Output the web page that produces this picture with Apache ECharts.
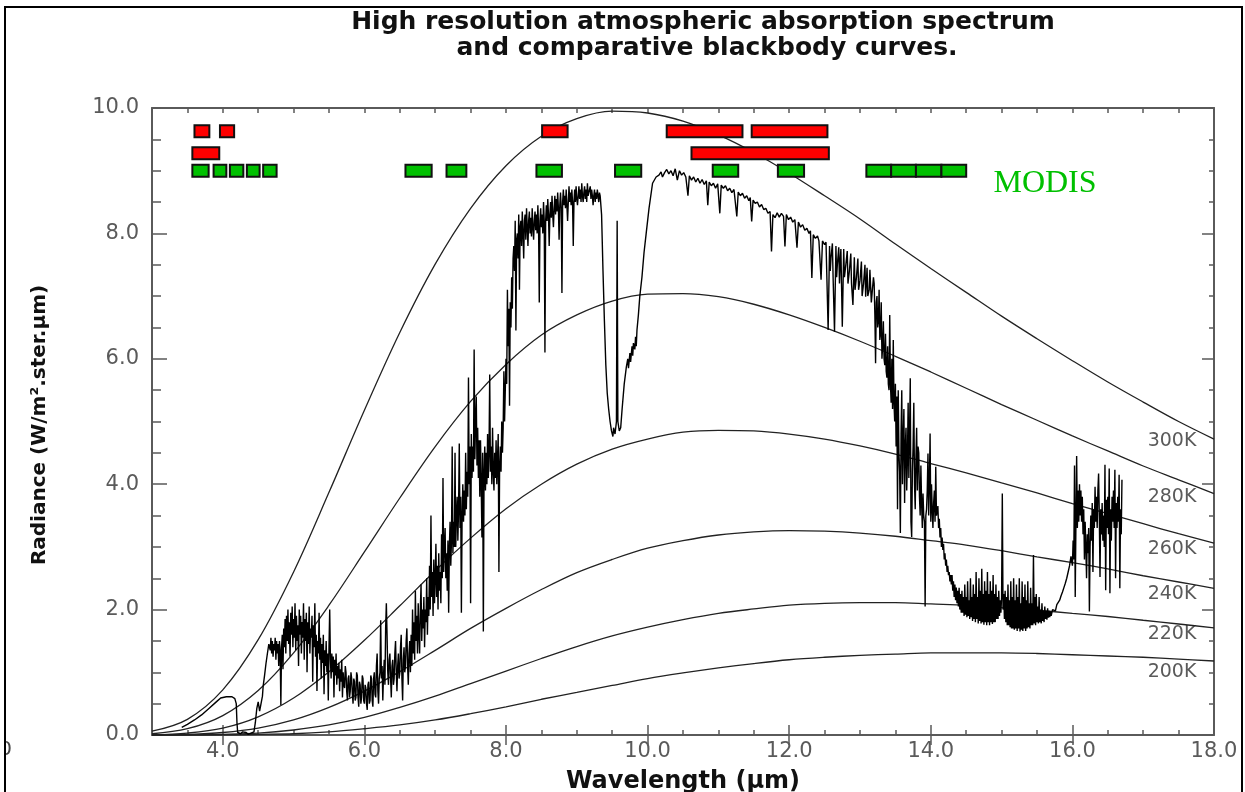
<!DOCTYPE html>
<html><head><meta charset="utf-8">
<script src="https://cdn.jsdelivr.net/npm/echarts@6/dist/echarts.min.js"></script>
<style>html,body{margin:0;padding:0;background:#fff}#c{width:1245px;height:792px}</style>
</head><body><div id="c"></div>
<script>
// ---------------- data ----------------
const wavelengths = [3.0,3.5,4.0,4.5,5.0,5.5,6.0,6.5,7.0,7.5,8.0,8.5,9.0,9.5,10.0,10.5,11.0,11.5,12.0,12.5,13.0,13.5,14.0,14.5,15.0,15.5,16.0,16.5,17.0,17.5,18.0];
const bb300 = [0.06,0.25,0.72,1.52,2.60,3.87,5.18,6.42,7.51,8.40,9.08,9.55,9.83,9.95,9.92,9.79,9.57,9.29,8.96,8.60,8.23,7.83,7.44,7.06,6.68,6.32,5.97,5.63,5.31,5.00,4.72];
const bb280 = [0.02,0.10,0.31,0.71,1.31,2.07,2.92,3.78,4.60,5.32,5.91,6.38,6.70,6.92,7.03,7.04,6.99,6.87,6.70,6.50,6.28,6.04,5.79,5.53,5.27,5.02,4.77,4.53,4.29,4.07,3.85];
const bb260 = [0.00,0.03,0.11,0.29,0.59,1.01,1.51,2.06,2.62,3.14,3.61,4.00,4.32,4.56,4.72,4.83,4.86,4.85,4.80,4.72,4.61,4.48,4.33,4.18,4.02,3.86,3.69,3.53,3.37,3.21,3.06];
const bb240 = [0.00,0.01,0.04,0.11,0.24,0.44,0.70,1.01,1.35,1.70,2.02,2.32,2.59,2.80,2.98,3.10,3.19,3.24,3.26,3.25,3.22,3.17,3.10,3.03,2.94,2.84,2.75,2.65,2.54,2.44,2.34];
const bb220 = [0.00,0.00,0.01,0.03,0.08,0.16,0.28,0.44,0.62,0.82,1.02,1.22,1.41,1.58,1.72,1.84,1.94,2.01,2.07,2.10,2.11,2.11,2.09,2.07,2.03,1.99,1.94,1.89,1.83,1.77,1.71];
const bb200 = [0.00,0.00,0.00,0.01,0.02,0.05,0.10,0.16,0.24,0.34,0.45,0.57,0.68,0.79,0.90,0.99,1.07,1.14,1.20,1.24,1.27,1.29,1.31,1.31,1.31,1.30,1.28,1.26,1.24,1.21,1.18];
const tempNames = ['300K','280K','260K','240K','220K','200K'];
const xTickLabels = [4,6,8,10,12,14,16,18];
const yTickLabels = [0,2,4,6,8,10];

const modisRed1 = [[3.60,3.81],[3.96,4.16],[8.51,8.87],[10.27,11.34],[11.47,12.54]];
const modisRed2 = [[3.57,3.95],[10.62,12.56]];
const modisGreen = [[3.57,3.80],[3.87,4.05],[4.10,4.29],[4.34,4.52],[4.57,4.76],[6.58,6.95],[7.16,7.44],[8.43,8.79],[9.54,9.91],[10.92,11.28],[11.84,12.21],[13.09,13.44],[13.44,13.79],[13.79,14.15],[14.15,14.50]];

const spectrum = [
[3.42,0.12],[3.5,0.17],[3.6,0.24],[3.7,0.32],[3.8,0.42],[3.9,0.52],[3.97,0.59],[4.05,0.61],[4.13,0.61],[4.17,0.58],[4.19,0.5],[4.2,0.2],[4.21,0.04],[4.25,0.02],[4.28,0.05],[4.3,0.02],[4.33,0.04],[4.36,0.01],[4.4,0.03],[4.44,0.05],[4.46,0.2],[4.48,0.42],[4.5,0.53],[4.52,0.38],[4.54,0.5],[4.56,0.62],[4.57,0.78],[4.59,0.95],[4.61,1.14],[4.63,1.3],[4.65,1.45],
[4.67,1.35],[4.68,1.55],[4.69,1.3],[4.70,1.5],[4.71,1.25],[4.72,1.45],[4.73,1.35],[4.74,1.55],[4.75,1.2],[4.76,1.5],[4.77,1.3],[4.78,1.45],[4.79,1.1],[4.80,1.5],[4.81,1.35],[4.82,0.48],[4.83,1.4],[4.84,1.6],[4.85,1.05],[4.86,1.7],[4.87,1.4],[4.88,1.85],[4.89,1.3],[4.90,1.9],[4.91,1.5],[4.92,2.0],[4.93,1.45],[4.94,1.8],[4.95,1.25],[4.96,1.95],[4.97,1.6],[4.98,2.05],[4.99,1.4],[5.00,1.85],[5.01,1.55],[5.02,2.1],[5.03,1.35],[5.04,1.9],[5.05,1.5],[5.06,1.75],[5.07,1.1],[5.08,2.0],[5.09,1.6],[5.10,1.9],[5.11,1.3],[5.12,1.8],[5.13,1.55],[5.14,2.1],[5.15,1.2],[5.16,1.85],[5.17,1.5],[5.18,1.95],[5.19,1.0],[5.20,1.8],[5.21,1.45],[5.22,2.05],[5.23,1.3],[5.24,1.7],[5.25,1.55],[5.26,1.9],[5.27,0.85],[5.28,1.75],[5.29,1.4],[5.30,2.1],[5.31,1.25],[5.32,1.6],[5.33,0.7],[5.34,1.5],[5.35,1.3],[5.36,1.95],[5.37,1.2],[5.38,1.55],[5.39,0.9],[5.40,1.45],[5.41,1.15],[5.42,1.6],[5.43,0.65],[5.44,1.35],[5.45,1.1],[5.46,1.5],[5.47,1.0],[5.48,1.3],[5.49,0.55],[5.50,1.4],[5.51,2.0],[5.52,1.2],[5.53,0.9],[5.54,1.3],[5.55,1.0],[5.56,1.25],[5.57,0.6],[5.58,1.2],[5.59,0.95],[5.60,1.3],[5.61,0.8],[5.62,1.1],[5.63,0.9],[5.64,1.15],[5.65,0.7],[5.66,1.05],[5.67,0.85],[5.68,1.2],[5.69,0.6],[5.70,1.0],[5.71,0.8],[5.72,0.75],[5.73,1.1],[5.74,1.0],[5.75,0.7],[5.76,0.55],[5.77,0.9],[5.78,0.95],[5.79,0.6],[5.80,0.7],[5.81,1.0],[5.82,0.9],[5.83,0.65],[5.84,0.5],[5.85,0.9],[5.86,0.85],[5.87,0.55],[5.88,0.6],[5.89,1.0],[5.90,0.95],[5.91,0.6],[5.92,0.45],[5.93,0.85],[5.94,0.8],[5.95,0.5],[5.96,0.6],[5.97,0.95],[5.98,0.9],[5.99,0.55],[6.00,0.5],[6.01,0.8],[6.02,0.75],[6.03,0.5],[6.04,0.4],[6.05,0.8],[6.06,0.85],[6.07,0.5],[6.08,0.55],[6.09,0.95],[6.10,0.9],[6.11,0.55],[6.12,0.45],[6.13,0.9],[6.14,1.0],[6.15,0.65],[6.16,0.6],[6.17,1.1],[6.18,1.3],[6.19,0.7],[6.20,0.5],[6.21,0.9],[6.22,1.0],[6.23,1.83],[6.24,0.9],[6.25,1.1],[6.26,0.55],[6.27,0.95],[6.28,1.2],[6.29,0.8],[6.30,1.7],[6.31,2.1],[6.32,1.6],[6.33,1.0],[6.34,0.8],[6.35,1.2],[6.36,1.3],[6.37,0.9],[6.38,0.6],[6.39,1.1],[6.40,1.2],[6.41,0.8],[6.42,0.9],[6.43,1.3],[6.44,1.5],[6.45,1.0],[6.46,0.7],[6.47,1.1],[6.48,1.3],[6.49,0.9],[6.50,1.0],[6.51,1.4],[6.52,1.6],[6.53,0.9],[6.54,0.55],[6.55,1.2],[6.56,1.4],[6.57,1.0],[6.58,1.1],[6.59,1.5],[6.60,1.7],[6.61,1.1],[6.62,0.8],[6.63,1.3],[6.64,1.5],
[6.65,1.0],[6.66,1.6],[6.67,1.1],[6.68,2.0],[6.69,1.3],[6.70,1.8],[6.71,1.2],[6.72,2.3],[6.73,1.5],[6.74,1.9],[6.75,1.3],[6.76,2.1],[6.77,1.6],[6.78,1.3],[6.79,2.0],[6.80,2.4],[6.81,1.5],[6.82,2.0],[6.83,1.7],[6.84,2.2],[6.85,1.4],[6.86,2.0],[6.87,1.8],[6.88,2.5],[6.89,1.6],[6.90,2.2],[6.91,1.9],[6.92,2.7],[6.93,2.0],[6.94,3.5],[6.95,2.2],[6.96,2.6],[6.97,1.9],[6.98,2.8],[6.99,2.1],[7.00,2.5],[7.01,3.05],[7.02,2.2],[7.03,2.7],[7.04,2.0],[7.05,2.9],[7.06,2.3],[7.07,2.6],[7.08,2.1],[7.09,3.2],[7.10,2.5],[7.11,4.1],[7.12,2.6],[7.13,3.0],[7.14,3.3],[7.15,2.5],[7.16,2.9],[7.17,2.3],[7.18,3.1],[7.19,1.95],[7.20,3.0],[7.21,3.4],[7.22,2.7],[7.23,3.1],[7.24,4.6],[7.25,2.9],[7.26,3.4],[7.27,3.0],[7.28,4.5],[7.29,3.0],[7.30,3.5],[7.31,3.8],[7.32,3.1],[7.33,3.6],[7.34,4.65],[7.35,3.3],[7.36,3.8],[7.37,1.95],[7.38,3.5],[7.39,4.0],[7.40,3.4],[7.41,3.9],[7.42,3.5],[7.43,4.5],[7.44,3.6],[7.45,4.2],[7.46,3.8],[7.47,5.7],[7.48,4.0],[7.49,4.6],[7.50,2.1],[7.51,4.8],[7.52,4.1],[7.53,4.6],[7.54,4.2],[7.55,6.15],[7.56,4.4],[7.57,5.0],[7.58,5.4],[7.59,4.3],[7.60,4.9],[7.61,4.1],[7.62,4.7],[7.63,3.8],[7.64,4.7],[7.65,4.0],[7.66,3.15],[7.67,4.5],[7.68,1.65],[7.69,4.2],[7.70,4.6],[7.71,3.9],[7.72,4.5],[7.73,4.0],[7.74,4.8],[7.75,4.1],[7.76,4.5],[7.77,5.75],[7.78,4.2],[7.79,4.6],[7.80,4.0],[7.81,4.9],[7.82,4.2],[7.83,3.9],[7.84,4.5],[7.85,4.1],[7.86,4.7],[7.87,4.0],[7.88,4.4],[7.89,4.8],[7.90,2.6],[7.91,4.3],[7.92,4.6],[7.93,4.2],[7.94,5.0],[7.95,4.5],[7.96,4.9],[7.97,5.8],[7.98,5.0],[7.99,5.5],[8.00,6.0],[8.01,5.6],[8.02,7.1],[8.03,6.2],[8.04,6.8],[8.05,5.25],[8.06,6.9],[8.07,6.5],[8.08,7.3],[8.09,6.8],[8.10,7.6],
[8.11,7.8],[8.12,7.4],[8.13,8.2],[8.14,6.45],[8.15,7.9],[8.16,8.0],[8.17,7.6],[8.18,8.3],[8.19,7.1],[8.20,8.1],[8.21,8.2],[8.22,7.8],[8.23,8.35],[8.24,8.0],[8.25,7.6],[8.26,8.2],[8.27,8.3],[8.28,7.9],[8.29,8.4],[8.30,8.1],[8.31,7.8],[8.32,8.2],[8.33,8.35],[8.34,8.0],[8.35,8.25],[8.36,7.95],[8.37,8.4],[8.38,8.1],[8.39,7.9],[8.40,8.2],[8.41,8.35],[8.42,8.05],[8.43,8.3],[8.44,8.0],[8.45,8.45],[8.46,8.1],[8.47,6.9],[8.48,8.2],[8.49,8.4],[8.50,8.1],[8.51,8.3],[8.52,8.0],[8.53,8.5],[8.54,8.2],[8.55,6.1],[8.56,8.2],[8.57,8.45],[8.58,8.2],[8.59,8.55],[8.60,8.3],[8.61,7.8],[8.62,8.3],[8.63,8.5],[8.64,8.25],[8.65,8.6],[8.66,8.3],[8.67,8.1],[8.68,8.4],[8.69,8.6],[8.70,8.3],[8.71,8.55],[8.72,8.35],[8.73,8.65],[8.74,8.4],[8.75,7.9],[8.76,8.45],[8.77,8.65],[8.78,8.4],[8.79,7.05],[8.80,8.5],[8.81,8.7],[8.82,8.45],[8.83,8.6],[8.84,8.4],[8.85,8.7],[8.86,8.45],[8.87,8.2],[8.88,8.5],[8.89,8.75],[8.90,8.5],[8.91,8.65],[8.92,8.45],[8.93,8.7],[8.94,8.5],[8.95,7.8],[8.96,8.5],[8.97,8.7],[8.98,8.5],[8.99,8.75],[9.00,8.55],[9.01,8.45],[9.02,8.6],[9.03,8.75],[9.04,8.55],[9.05,8.7],[9.06,8.5],[9.07,8.8],[9.08,8.6],[9.09,8.5],[9.10,8.65],[9.11,8.75],[9.12,8.55],[9.13,8.7],[9.14,8.5],[9.15,8.8],[9.16,8.6],[9.17,8.6],[9.18,8.7],[9.19,8.75],[9.20,8.55],[9.21,8.7],[9.22,8.6],[9.23,8.45],[9.24,8.6],[9.25,8.7],[9.26,8.5],[9.27,8.65],[9.28,8.55],[9.29,8.7],[9.30,8.6],[9.31,8.5],[9.32,8.65],[9.33,8.6],
[9.35,8.3],[9.37,7.4],[9.39,6.6],[9.41,5.9],[9.43,5.45],[9.45,5.2],[9.47,5.0],[9.49,4.85],[9.51,4.76],[9.52,4.9],[9.54,4.8],[9.56,5.0],[9.57,8.2],[9.58,5.0],[9.60,4.85],[9.62,4.9],[9.64,5.2],[9.67,5.6],[9.70,5.87],[9.72,6.0],[9.73,5.85],[9.75,6.09],[9.76,5.95],[9.78,6.2],[9.79,6.05],[9.80,6.25],[9.82,6.15],[9.83,6.35],[9.84,6.2],[9.85,6.46],[9.87,6.7],[9.89,7.0],[9.92,7.3],[9.95,7.7],[9.98,8.0],[10.02,8.4],[10.07,8.8],[10.12,8.9],
[10.16,8.93],[10.19,8.98],[10.21,8.9],[10.24,8.97],[10.27,9.02],[10.3,8.95],[10.33,9.0],[10.36,8.92],[10.39,9.03],[10.42,8.85],[10.45,9.0],[10.48,8.93],[10.51,8.97],[10.54,8.9],[10.57,8.6],[10.59,8.92],[10.62,8.85],[10.65,8.9],[10.68,8.82],[10.71,8.88],[10.74,8.8],[10.77,8.86],[10.8,8.78],[10.83,8.84],[10.85,8.45],[10.87,8.82],[10.9,8.76],[10.93,8.8],[10.96,8.72],[10.99,8.79],[11.02,8.32],[11.04,8.77],[11.07,8.72],[11.1,8.76],[11.13,8.68],[11.16,8.72],[11.19,8.65],[11.22,8.7],[11.26,8.27],[11.28,8.66],[11.31,8.6],[11.34,8.64],[11.37,8.56],[11.4,8.6],[11.43,8.52],[11.45,8.57],[11.47,8.19],[11.49,8.53],[11.52,8.48],[11.55,8.5],[11.58,8.42],[11.61,8.46],[11.64,8.38],[11.67,8.4],[11.7,8.32],[11.73,8.35],[11.75,7.71],[11.77,8.3],[11.8,8.25],[11.83,8.33],[11.86,8.26],[11.89,8.32],[11.92,8.27],[11.94,7.79],[11.96,8.3],[11.99,8.22],[12.02,8.26],[12.05,8.18],[12.08,8.22],[12.11,7.77],[12.13,8.18],[12.16,8.1],[12.19,8.14],[12.22,8.05],[12.25,8.08],[12.28,8.0],[12.3,8.04],[12.32,7.29],[12.34,7.98],[12.37,7.92],[12.4,7.96],[12.42,7.88],[12.45,7.26],[12.47,7.88],[12.5,7.82],[12.52,7.86],[12.55,6.46],[12.57,7.8],[12.58,7.4],[12.59,7.6],[12.61,7.84],[12.62,7.3],[12.64,6.43],[12.66,7.8],[12.67,7.3],[12.68,7.5],[12.7,7.78],[12.71,7.2],[12.72,7.55],[12.73,7.75],[12.75,6.51],[12.77,7.75],[12.78,7.3],[12.8,7.5],[12.82,7.72],[12.83,7.2],[12.85,7.4],[12.87,7.68],[12.88,7.2],[12.9,6.86],[12.92,7.62],[12.93,7.1],[12.95,7.3],[12.97,7.6],[12.98,7.1],[13.0,7.25],[13.02,7.55],[13.03,7.0],[13.05,7.2],[13.07,7.5],[13.08,6.99],[13.1,7.45],[13.11,7.0],[13.13,7.1],[13.14,7.42],[13.15,7.4],[13.16,6.9],[13.18,6.9],[13.19,7.3],[13.2,7.2],[13.21,6.7],[13.22,5.93],[13.23,6.9],
[13.24,7.0],[13.25,6.5],[13.26,6.6],[13.27,7.1],[13.28,6.3],[13.29,6.4],[13.30,6.9],[13.31,6.0],[13.32,6.2],[13.33,6.6],[13.34,6.0],[13.35,5.9],[13.36,6.4],[13.37,5.8],[13.38,5.7],[13.39,6.2],[13.40,5.6],[13.41,5.5],[13.42,6.7],[13.43,5.6],[13.44,5.3],[13.45,6.0],[13.46,5.2],[13.47,6.3],[13.48,5.3],[13.49,5.0],[13.50,5.6],[13.51,4.6],[13.52,5.4],[13.53,3.6],[13.54,5.5],[13.55,4.5],[13.56,4.2],[13.57,3.22],[13.58,4.8],[13.59,5.5],[13.60,4.0],[13.61,4.7],[13.62,5.2],[13.63,3.7],[13.64,4.6],[13.65,4.9],[13.66,3.9],[13.67,4.4],[13.68,5.3],[13.69,4.1],[13.70,4.8],[13.71,5.69],[13.72,3.4],[13.73,3.16],[13.74,4.2],[13.75,4.6],[13.76,5.3],[13.77,4.0],[13.78,3.6],[13.79,4.4],[13.80,4.9],[13.81,3.9],[13.82,4.6],[13.83,4.5],[13.84,3.8],[13.85,3.5],[13.86,4.3],[13.87,3.7],[13.88,3.3],[13.89,3.85],[13.90,3.5],[13.91,3.4],[13.92,2.05],[13.93,3.5],[13.94,3.6],[13.95,3.9],[13.96,4.49],[13.97,3.5],[13.98,4.0],[13.99,4.81],[14.00,3.4],[14.01,4.0],[14.02,3.6],[14.03,3.3],[14.04,3.7],[14.05,3.9],[14.06,3.4],[14.07,4.28],[14.08,3.5],[14.09,3.5],[14.10,3.65],[14.11,3.3],[14.12,3.45],[14.13,3.15],[14.14,3.3],[14.15,3.0],[14.16,3.15],[14.17,2.95],[14.18,3.05],[14.19,2.8],[14.20,2.9],[14.21,2.7],[14.22,2.8],[14.23,2.6],[14.24,2.7],[14.25,2.55],[14.26,2.6],[14.27,2.45],[14.28,2.55],[14.29,2.4],
[14.30,2.55],[14.31,2.3],[14.32,2.45],[14.33,2.2],[14.34,2.4],[14.35,2.15],[14.36,2.35],[14.37,2.1],[14.38,2.3],[14.39,2.05],[14.40,2.35],[14.41,2.0],[14.42,2.25],[14.43,1.95],[14.44,2.3],[14.45,1.95],[14.46,2.2],[14.47,1.9],[14.48,2.4],[14.49,1.92],[14.50,2.2],[14.51,1.88],[14.52,2.45],[14.53,1.9],[14.54,2.15],[14.55,1.85],[14.56,2.5],[14.57,1.88],[14.58,2.2],[14.59,1.82],[14.60,2.4],[14.61,1.85],[14.62,2.25],[14.63,1.8],[14.64,2.6],[14.65,1.85],[14.66,2.2],[14.67,1.78],[14.68,2.5],[14.69,1.82],[14.70,2.3],[14.71,1.78],[14.72,2.65],[14.73,1.8],[14.74,2.25],[14.75,1.76],[14.76,2.45],[14.77,1.8],[14.78,2.3],[14.79,1.75],[14.80,2.6],[14.81,1.8],[14.82,2.25],[14.83,1.75],[14.84,2.45],[14.85,1.8],[14.86,2.3],[14.87,1.77],[14.88,2.55],[14.89,1.8],[14.90,2.25],[14.91,1.8],[14.92,2.4],[14.93,1.85],[14.94,2.2],[14.95,1.85],[14.96,2.3],[14.97,1.9],[14.98,2.15],[14.99,1.95],[15.00,2.2],[15.01,3.85],[15.02,2.0],
[15.03,2.25],[15.04,1.85],[15.05,2.3],[15.06,1.8],[15.07,2.2],[15.08,1.75],[15.09,2.4],[15.10,1.75],[15.11,2.15],[15.12,1.72],[15.13,2.45],[15.14,1.7],[15.15,2.2],[15.16,1.7],[15.17,2.5],[15.18,1.68],[15.19,2.15],[15.20,1.7],[15.21,2.4],[15.22,1.66],[15.23,2.2],[15.24,1.7],[15.25,2.5],[15.26,1.65],[15.27,2.1],[15.28,1.68],[15.29,2.45],[15.30,1.66],[15.31,2.2],[15.32,1.7],[15.33,2.4],[15.34,1.66],[15.35,2.15],[15.36,1.7],[15.37,2.45],[15.38,1.72],[15.39,2.1],[15.40,1.7],[15.41,2.35],[15.42,1.75],[15.43,2.1],[15.44,1.75],[15.45,2.87],[15.46,1.78],[15.47,2.2],[15.48,1.75],[15.49,2.25],[15.50,1.8],[15.51,2.05],[15.52,1.78],[15.53,2.2],[15.54,1.8],[15.55,2.0],[15.56,1.78],[15.57,2.1],[15.58,1.82],[15.59,1.98],[15.60,1.8],[15.61,2.05],[15.62,1.85],[15.63,1.98],[15.64,1.84],[15.65,2.02],[15.66,1.87],[15.67,1.98],[15.68,1.88],[15.69,1.97],[15.70,1.9],[15.72,2.0],[15.74,2.02],[15.76,1.98],[15.78,2.08],[15.80,2.1],[15.82,2.15],[15.84,2.22],[15.86,2.28],[15.88,2.35],[15.90,2.42],[15.92,2.5],[15.94,2.6],[15.96,2.7],[15.98,2.85],
[16.00,2.7],[16.01,3.1],[16.02,2.8],[16.03,4.3],[16.04,2.2],[16.05,3.4],[16.06,4.45],[16.07,3.3],[16.08,3.9],[16.09,3.4],[16.10,4.0],[16.11,3.5],[16.12,3.9],[16.13,3.4],[16.14,3.8],[16.15,3.2],[16.16,3.6],[16.17,2.8],[16.18,3.4],[16.19,3.0],[16.20,2.5],[16.21,3.2],[16.22,2.9],[16.23,3.3],[16.24,1.97],[16.25,3.0],[16.26,3.5],[16.27,3.1],[16.28,3.7],[16.29,2.6],[16.30,3.6],[16.31,3.3],[16.32,3.96],[16.33,3.4],[16.34,3.8],[16.35,3.3],[16.36,3.9],[16.37,4.17],[16.38,3.5],[16.39,2.52],[16.40,3.6],[16.41,3.2],[16.42,3.7],[16.43,3.1],[16.44,3.5],[16.45,3.0],[16.46,4.31],[16.47,2.31],[16.48,3.75],[16.49,3.3],[16.50,3.8],[16.51,3.2],[16.52,4.25],[16.53,2.26],[16.54,3.6],[16.55,3.1],[16.56,3.8],[16.57,3.4],[16.58,3.9],[16.59,3.3],[16.60,4.23],[16.61,2.5],[16.62,3.7],[16.63,3.3],[16.64,3.8],[16.65,3.4],[16.66,4.15],[16.67,2.34],[16.68,3.6],[16.69,3.2],[16.70,4.07]
];

// ---------------- chart ----------------
const chart = echarts.init(document.getElementById('c'), null, {renderer: 'canvas'});
const AXC = '#5a5a5a';
const LBL = '#5a5a5a';
const FONT = 'DejaVu Sans';
const zip = (xs, ys) => xs.map((x, i) => [x, ys[i]]);
const curves = [bb300, bb280, bb260, bb240, bb220, bb200];

function bandItem(params, api) {
  const s = api.coord([api.value(0), api.value(2)]);
  const e = api.coord([api.value(1), api.value(2)]);
  return {
    type: 'rect',
    shape: {x: s[0], y: s[1] - 6, width: e[0] - s[0], height: 12},
    style: {fill: api.visual('color'), stroke: '#111', lineWidth: 2}
  };
}
function bandSeries(list, level, color) {
  return {
    type: 'custom', renderItem: bandItem, itemStyle: {color: color},
    encode: {x: [0, 1], y: 2}, z: 5, silent: true,
    data: list.map(b => [b[0], b[1], level])
  };
}
const xMajor = xTickLabels.filter(v => v < 18);
const yMajor = yTickLabels.filter(v => v > 0 && v < 10);
const lineAxis = {show: true, onZero: false, lineStyle: {color: AXC, width: 2}};
const noLine = {show: false};

const series = curves.map(c => ({
  type: 'line', data: zip(wavelengths, c), showSymbol: false, smooth: 0.35,
  lineStyle: {color: '#222', width: 1.3}, silent: true, z: 2
}));
series.push({
  type: 'line', data: spectrum, showSymbol: false, sampling: null,
  lineStyle: {color: '#000', width: 1.4}, silent: true, z: 3
});
series.push(bandSeries(modisRed1, 9.63, '#ff0000'));
series.push(bandSeries(modisRed2, 9.28, '#ff0000'));
series.push(bandSeries(modisGreen, 9.00, '#00c000'));

const labelY = [441, 497, 549, 594, 634, 672];
const graphics = [
  {type: 'text', x: 703, y: 22, style: {text: 'High resolution atmospheric absorption spectrum', font: 'bold 25px "DejaVu Sans"', fill: '#111', align: 'center', verticalAlign: 'middle'}},
  {type: 'text', x: 707, y: 48, style: {text: 'and comparative blackbody curves.', font: 'bold 25px "DejaVu Sans"', fill: '#111', align: 'center', verticalAlign: 'middle'}},
  {type: 'text', x: 40, y: 425, rotation: Math.PI / 2, style: {text: 'Radiance (W/m\u00B2.ster.\u00B5m)', font: 'bold 20px "DejaVu Sans"', fill: '#111', align: 'center', verticalAlign: 'middle'}},
  {type: 'text', x: 683, y: 782, style: {text: 'Wavelength (\u00B5m)', font: 'bold 24px "DejaVu Sans"', fill: '#111', align: 'center', verticalAlign: 'middle'}},
  {type: 'text', x: 1045, y: 184, style: {text: 'MODIS', font: '32px "Liberation Serif"', fill: '#00c000', align: 'center', verticalAlign: 'middle'}},
  {type: 'text', x: 12, y: 750, z: 1, style: {text: '0', font: '20px "DejaVu Sans"', fill: '#444', align: 'right', verticalAlign: 'middle'}},
  {type: 'rect', shape: {x: 0, y: 0, width: 5, height: 792}, style: {fill: '#fff'}, z: 50},
  {type: 'rect', shape: {x: 5, y: 7, width: 1237, height: 800}, style: {fill: null, stroke: '#000', lineWidth: 2}, z: 60}
];
tempNames.forEach((t, i) => graphics.push({
  type: 'text', x: 1172, y: labelY[i],
  style: {text: t, font: '19px "DejaVu Sans"', fill: LBL, align: 'center', verticalAlign: 'middle'}
}));

const option = {
  backgroundColor: '#fff',
  animation: false,
  grid: {left: 152, right: 31, top: 108, bottom: 57, containLabel: false},
  xAxis: [
    {type: 'value', position: 'bottom', min: 3, max: 18, interval: 0.5,
     axisLine: lineAxis, splitLine: {show: false},
     axisTick: {show: true, inside: true, length: 5, lineStyle: {color: AXC, width: 1.5}},
     axisLabel: {show: true, customValues: xTickLabels, formatter: v => v.toFixed(1), color: LBL, fontFamily: FONT, fontSize: 21, margin: 6}},
    {type: 'value', position: 'bottom', min: 3, max: 18,
     axisLine: noLine, splitLine: {show: false}, axisLabel: {show: false},
     axisTick: {show: true, inside: true, length: 10, customValues: xMajor, lineStyle: {color: AXC, width: 1.5}}},
    {type: 'value', position: 'top', min: 3, max: 18, interval: 0.5,
     axisLine: lineAxis, splitLine: {show: false}, axisLabel: {show: false},
     axisTick: {show: true, inside: true, length: 5, lineStyle: {color: AXC, width: 1.5}}},
    {type: 'value', position: 'top', min: 3, max: 18,
     axisLine: noLine, splitLine: {show: false}, axisLabel: {show: false},
     axisTick: {show: true, inside: true, length: 10, customValues: xMajor, lineStyle: {color: AXC, width: 1.5}}}
  ],
  yAxis: [
    {type: 'value', position: 'left', min: 0, max: 10, interval: 0.5,
     axisLine: lineAxis, splitLine: {show: false},
     axisTick: {show: true, inside: true, length: 9, lineStyle: {color: AXC, width: 1.5}},
     axisLabel: {show: true, customValues: yTickLabels, formatter: v => v.toFixed(1), color: LBL, fontFamily: FONT, fontSize: 21, margin: 13}},
    {type: 'value', position: 'left', min: 0, max: 10,
     axisLine: noLine, splitLine: {show: false}, axisLabel: {show: false},
     axisTick: {show: true, inside: true, length: 15, customValues: yMajor, lineStyle: {color: AXC, width: 1.5}}},
    {type: 'value', position: 'right', min: 0, max: 10, interval: 0.5,
     axisLine: lineAxis, splitLine: {show: false}, axisLabel: {show: false},
     axisTick: {show: true, inside: true, length: 5, lineStyle: {color: AXC, width: 1.5}}},
    {type: 'value', position: 'right', min: 0, max: 10,
     axisLine: noLine, splitLine: {show: false}, axisLabel: {show: false},
     axisTick: {show: true, inside: true, length: 12, customValues: yMajor, lineStyle: {color: AXC, width: 1.5}}}
  ],
  series: series,
  graphic: graphics
};
chart.setOption(option);
</script>
</body></html>
